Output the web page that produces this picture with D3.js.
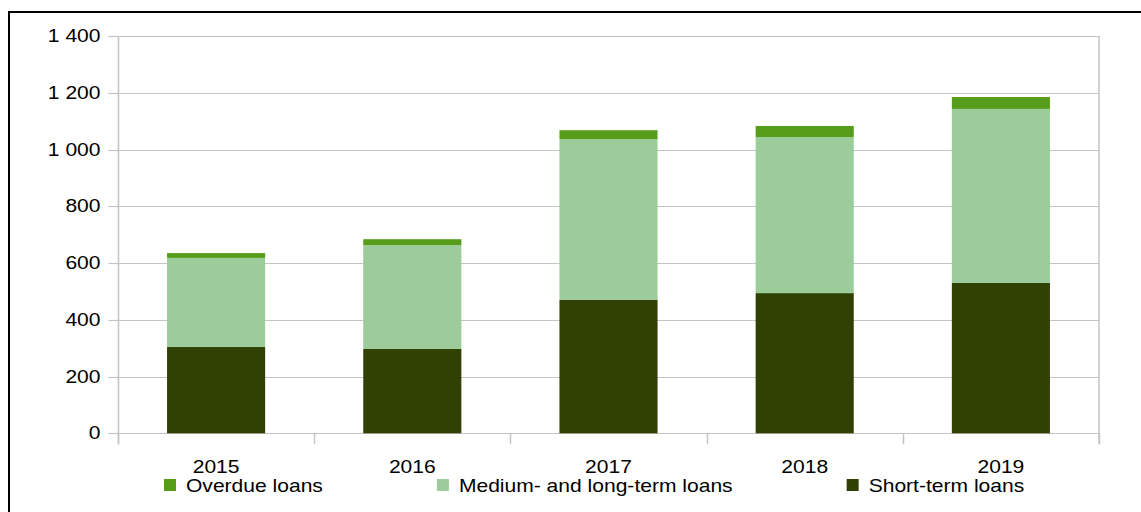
<!DOCTYPE html>
<html>
<head>
<meta charset="utf-8">
<script src="https://cdn.jsdelivr.net/npm/d3@7"></script>
<style>
  html, body { margin: 0; padding: 0; background: #fff; }
  svg { display: block; }
  text { font-family: "Liberation Sans", Arial, sans-serif; fill: #000; }
</style>
</head>
<body>
<svg id="chart" width="1141" height="512"></svg>
<script>
// Loans by maturity, stacked per year
const years = ["2015", "2016", "2017", "2018", "2019"];
const shortTerm = [304, 297, 471, 494, 530];
const mediumLongTerm = [314, 366, 566, 550, 613];
const overdue = [17, 21, 31, 39, 42];
const yTicks = [0, 200, 400, 600, 800, 1000, 1200, 1400];

const seriesKeys = ["short", "medium", "overdue"];
const seriesNames = {
  overdue: "Overdue loans",
  medium: "Medium- and long-term loans",
  short: "Short-term loans"
};
const colors = { short: "#314004", medium: "#9bcc9a", overdue: "#579d1c" };
const legendOrder = ["overdue", "medium", "short"];

const rows = years.map((yr, i) => ({
  year: yr, short: shortTerm[i], medium: mediumLongTerm[i], overdue: overdue[i]
}));

const svg = d3.select("#chart");
const W = 1141, H = 512;
const plot = { left: 118, right: 1099, top: 36, bottom: 433.3 };
const fontSize = 18, stretchX = 1.17;
const gridColor = "#c4c4c4";

// Outer frame
svg.append("rect")
  .attr("x", 9).attr("y", 12).attr("width", W + 20).attr("height", H + 20)
  .attr("fill", "none").attr("stroke", "#000").attr("stroke-width", 2);

const x = d3.scaleBand().domain(years).range([plot.left, plot.right])
  .paddingInner(0.5).paddingOuter(0.25);
const y = d3.scaleLinear().domain([0, 1400]).range([plot.bottom, plot.top]);

const loc = d3.formatLocale({ decimal: ".", thousands: "\u00a0", grouping: [3], currency: ["", ""] });
const fmt = loc.format(",");

// Horizontal grid
svg.append("g").selectAll("line").data(yTicks).join("line")
  .attr("x1", plot.left).attr("x2", plot.right)
  .attr("y1", d => Math.round(y(d)) + 0.5).attr("y2", d => Math.round(y(d)) + 0.5)
  .attr("stroke", gridColor).attr("stroke-width", 1.2);

// Widen glyphs the way the labels are drawn
function stretch(sel) {
  sel.each(function () {
    const t = d3.select(this);
    const tx = +t.attr("x") || 0;
    t.attr("x", 0).attr("transform", `translate(${tx},0) scale(${stretchX},1)`);
  });
}

// Y axis
const yAxis = svg.append("g")
  .attr("transform", `translate(${plot.left + 0.5},0)`)
  .call(d3.axisLeft(y).tickValues(yTicks).tickSize(10).tickPadding(8).tickFormat(fmt));
yAxis.select(".domain").remove();
yAxis.selectAll(".tick line").attr("stroke", gridColor).attr("stroke-width", 1.2);
yAxis.selectAll(".tick text").attr("font-size", fontSize).call(stretch);
yAxis.selectAll(".tick").attr("transform", d => `translate(0,${Math.round(y(d)) + 0.5})`);

// Vertical axis line and right frame line of plot area
const step = x.step();
const bounds = years.map(d => x(d) - (step - x.bandwidth()) / 2).concat([plot.right]);
svg.append("line")
  .attr("x1", plot.left + 0.5).attr("x2", plot.left + 0.5)
  .attr("y1", plot.top).attr("y2", plot.bottom + 11)
  .attr("stroke", gridColor).attr("stroke-width", 1.5);
svg.append("line")
  .attr("x1", plot.right).attr("x2", plot.right)
  .attr("y1", plot.top).attr("y2", plot.bottom + 11)
  .attr("stroke", gridColor).attr("stroke-width", 1.5);

// Category boundary ticks
svg.append("g").selectAll("line").data(bounds).join("line")
  .attr("x1", d => Math.round(d) + 0.5).attr("x2", d => Math.round(d) + 0.5)
  .attr("y1", plot.bottom).attr("y2", plot.bottom + 11)
  .attr("stroke", gridColor).attr("stroke-width", 1.5);

// Stacked bars
const stacked = d3.stack().keys(seriesKeys)(rows);
svg.append("g").selectAll("g").data(stacked).join("g")
  .attr("fill", s => colors[s.key])
  .selectAll("rect").data(s => s).join("rect")
  .attr("x", d => x(d.data.year))
  .attr("width", x.bandwidth())
  .attr("y", d => y(d[1]))
  .attr("height", d => y(d[0]) - y(d[1]));

// Category labels
const xAxis = svg.append("g")
  .attr("transform", `translate(0,${plot.bottom})`)
  .call(d3.axisBottom(x).tickSize(0).tickPadding(0));
xAxis.select(".domain").remove();
xAxis.selectAll(".tick text")
  .attr("font-size", fontSize).attr("dy", null).attr("y", 40)
  .call(stretch);

// Legend
const legend = svg.append("g").attr("transform", "translate(0,492)");
let lx = 164;
legendOrder.forEach(k => {
  const g = legend.append("g").attr("transform", `translate(${lx},0)`);
  g.append("rect").attr("x", 0).attr("y", -13).attr("width", 12).attr("height", 12)
    .attr("fill", colors[k]);
  const t = g.append("text").attr("x", 22).attr("font-size", fontSize)
    .text(seriesNames[k]);
  t.call(stretch);
  const w = t.node().getComputedTextLength() * stretchX;
  lx += 22 + w + 114;
});
</script>
</body>
</html>
